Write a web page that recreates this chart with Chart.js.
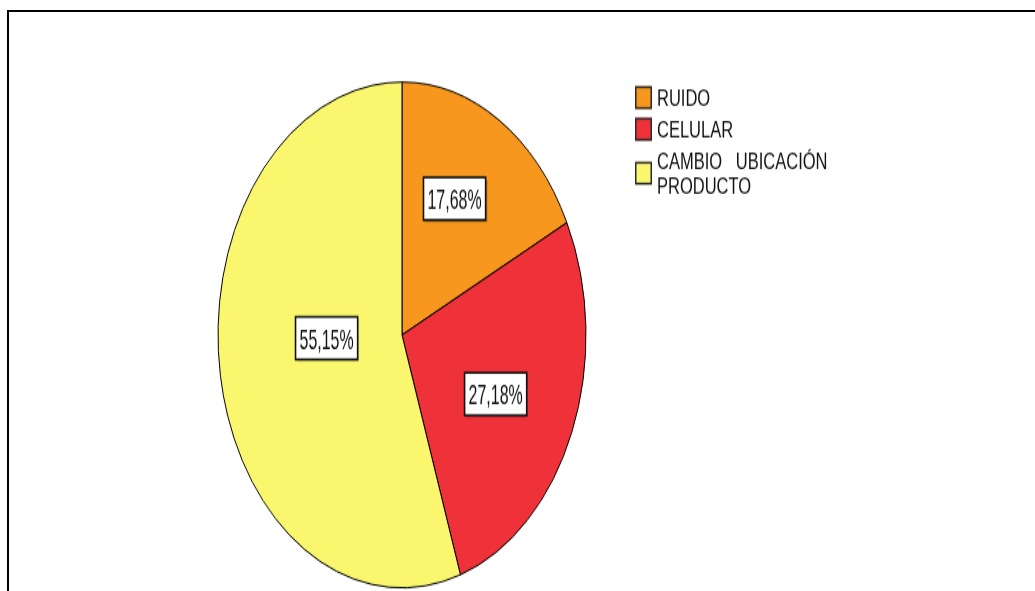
<!DOCTYPE html>
<html>
<head>
<meta charset="utf-8">
<script src="https://cdn.jsdelivr.net/npm/chart.js@4.4.1/dist/chart.umd.min.js"></script>
<style>
  html, body { margin: 0; padding: 0; background: #fff; overflow: hidden; }
  body { width: 1035px; height: 591px; position: relative; }
  /* The chart is laid out in a 1035x430 box and stretched vertically to 591px,
     which turns the pie into a tall ellipse and gives the text its tall, narrow look. */
  #stage {
    position: absolute; left: 0; top: 0;
    width: 1035px; height: 430px;
    transform: scaleY(1.37442); transform-origin: 0 0;
  }
  #frame {
    position: absolute; left: 7px; top: 10px;
    width: 1200px; height: 800px;
    border-top: 2px solid #000; border-left: 2px solid #000;
    pointer-events: none;
  }
</style>
</head>
<body>
<div id="stage"><canvas id="chart"></canvas></div>
<div id="frame"></div>
<script>
// ---- data ----
const categories = ['RUIDO', 'CELULAR', ['CAMBIO   UBICACIÓN', 'PRODUCTO']];
const percentages = [17.68, 27.18, 55.15];

// ---- style ----
const sliceColors = ['#F7971D', '#EF3239', '#FAF76F'];
const labelRadius = [0.61, 0.56, 0.41];   // how far out each value box sits (fraction of radius)
const labelTurn = [-3.9, 2.1, 7.5];       // small angular nudge of each value box, degrees
const STAGE_W = 1035, STAGE_H = 430;
const pieCenterX = 402, pieCenterY = 243.7, pieRadius = 184;
const LABEL_FONT = 21, LABEL_SQUEEZE = 0.76;
const LEGEND_FONT = 16.5;

const formatPercent = v => v.toFixed(2).replace('.', ',') + '%';

// Value boxes: white rectangles with a thin dark edge and a soft drop shadow
const valueBoxes = {
  id: 'valueBoxes',
  afterDatasetsDraw(chart) {
    const ctx = chart.ctx;
    const meta = chart.getDatasetMeta(0);
    const values = chart.data.datasets[0].data;
    meta.data.forEach((arc, i) => {
      const p = arc.getProps(['x', 'y', 'startAngle', 'endAngle', 'outerRadius'], true);
      const mid = (p.startAngle + p.endAngle) / 2 + labelTurn[i] * Math.PI / 180;
      const r = p.outerRadius * labelRadius[i];
      const cx = p.x + Math.cos(mid) * r;
      const cy = p.y + Math.sin(mid) * r;
      const text = formatPercent(values[i]);
      ctx.save();
      ctx.font = LABEL_FONT + 'px "Liberation Sans", Arial, sans-serif';
      const tw = ctx.measureText(text).width * LABEL_SQUEEZE;
      const bw = tw + 8, bh = 31;
      const bx = cx - bw / 2, by = cy - bh / 2;
      ctx.shadowColor = 'rgba(0,0,0,0.45)';
      ctx.shadowOffsetX = 1; ctx.shadowOffsetY = 1.5; ctx.shadowBlur = 1.5;
      ctx.fillStyle = '#fff';
      ctx.fillRect(bx, by, bw, bh);
      ctx.shadowColor = 'transparent';
      ctx.lineWidth = 1.6;
      ctx.strokeStyle = '#111';
      ctx.strokeRect(bx, by, bw, bh);
      ctx.translate(cx, cy);
      ctx.scale(LABEL_SQUEEZE, 1);
      ctx.textAlign = 'center';
      ctx.textBaseline = 'alphabetic';
      ctx.fillStyle = '#111';
      ctx.fillText(text, 0, 0.358 * LABEL_FONT);
      ctx.restore();
    });
  }
};

// Legend to the right of the pie: coloured squares with one or two text lines each
const sideLegend = {
  id: 'sideLegend',
  afterDraw(chart) {
    const ctx = chart.ctx;
    const colors = chart.data.datasets[0].backgroundColor;
    const boxX = 635, boxW = 17, boxH = 16.7, textX = 657, lineH = 18, gap = 5;
    let y = 62;
    ctx.save();
    ctx.font = LEGEND_FONT + 'px "Liberation Sans", Arial, sans-serif';
    ctx.textAlign = 'left';
    ctx.textBaseline = 'alphabetic';
    chart.data.labels.forEach((label, i) => {
      const lines = Array.isArray(label) ? label : [label];
      const h = lines.length * lineH;
      const by = y + h / 2 - boxH / 2;
      ctx.fillStyle = colors[i];
      ctx.fillRect(boxX, by, boxW, boxH);
      ctx.lineWidth = 1.5;
      ctx.strokeStyle = '#2a2a2a';
      ctx.strokeRect(boxX + 0.75, by + 0.75, boxW - 1.5, boxH - 1.5);
      ctx.fillStyle = '#111';
      lines.forEach((ln, k) => {
        ctx.fillText(ln, textX, y + k * lineH + lineH / 2 + 0.358 * LEGEND_FONT);
      });
      y += h + gap;
    });
    ctx.restore();
  }
};

new Chart(document.getElementById('chart'), {
  type: 'pie',
  data: {
    labels: categories,
    datasets: [{
      data: percentages,
      backgroundColor: sliceColors,
      borderColor: '#000',
      borderWidth: 1,
      hoverOffset: 0
    }]
  },
  options: {
    responsive: true,
    maintainAspectRatio: false,
    animation: false,
    events: [],
    radius: pieRadius,
    layout: {
      padding: {
        left: pieCenterX - pieRadius,
        right: STAGE_W - pieCenterX - pieRadius,
        top: pieCenterY - pieRadius,
        bottom: STAGE_H - pieCenterY - pieRadius
      }
    },
    plugins: {
      legend: { display: false },
      tooltip: { enabled: false }
    }
  },
  plugins: [valueBoxes, sideLegend]
});
</script>
</body>
</html>
